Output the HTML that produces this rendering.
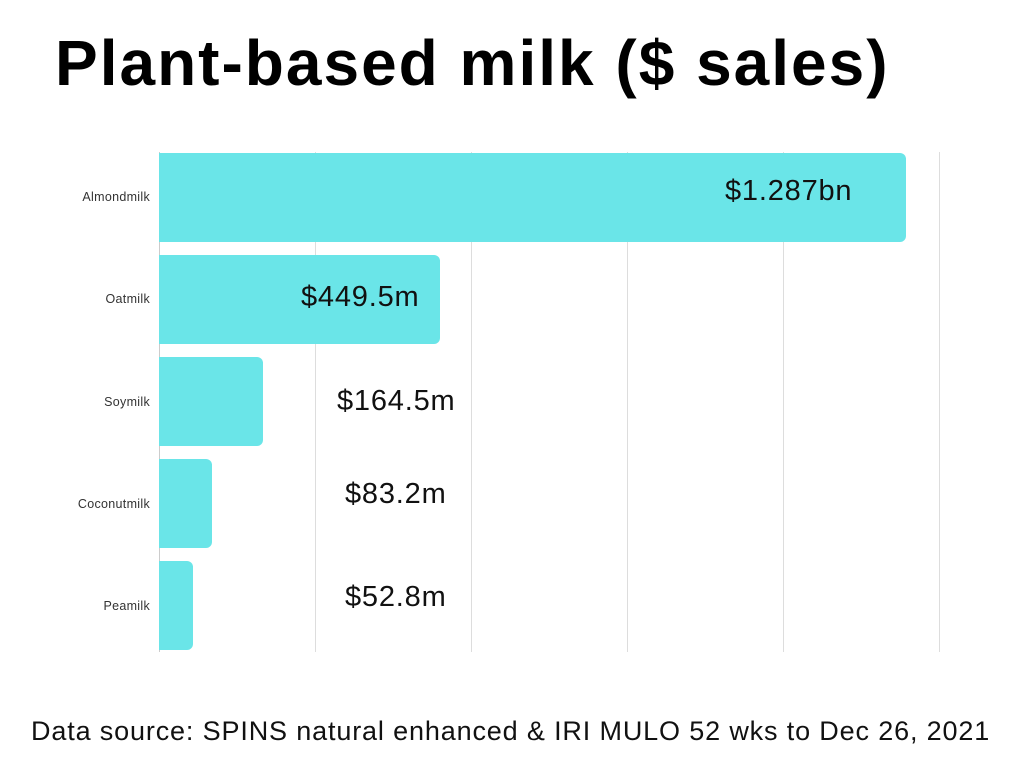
<!DOCTYPE html>
<html><head><meta charset="utf-8"><style>
body{margin:0;width:1024px;height:768px;background:#fff;position:relative;overflow:hidden;font-family:"Liberation Sans",sans-serif}
.t{position:absolute;left:55px;top:26px;font-size:64px;font-weight:bold;color:#000;letter-spacing:2px;white-space:nowrap}
.g{position:absolute;top:152px;height:500px;width:1px;background:#ddd}
.b{position:absolute;left:159px;height:89px;background:#6ae5e8;border-radius:0 6px 6px 0}
.l{position:absolute;right:874px;font-size:12.5px;letter-spacing:0.3px;color:#333;white-space:nowrap}
.v{position:absolute;font-size:29px;letter-spacing:0.8px;color:#111;white-space:nowrap}
.f{position:absolute;left:31px;top:716px;font-size:27px;letter-spacing:0.85px;color:#111;white-space:nowrap}
</style></head><body>
<div class="t">Plant-based milk ($ sales)</div>
<div class="g" style="left:159px;background:#ccc"></div>
<div class="g" style="left:315px"></div>
<div class="g" style="left:471px"></div>
<div class="g" style="left:627px"></div>
<div class="g" style="left:783px"></div>
<div class="g" style="left:939px"></div>
<div class="b" style="top:153px;width:747px"></div>
<div class="b" style="top:255px;width:281px"></div>
<div class="b" style="top:357px;width:104px"></div>
<div class="b" style="top:459px;width:53px"></div>
<div class="b" style="top:561px;width:34px"></div>
<div class="l" style="top:190px">Almondmilk</div>
<div class="l" style="top:292px">Oatmilk</div>
<div class="l" style="top:395px">Soymilk</div>
<div class="l" style="top:497px">Coconutmilk</div>
<div class="l" style="top:599px">Peamilk</div>
<div class="v" style="left:725px;top:175px">$1.287bn</div>
<div class="v" style="left:301px;top:281px">$449.5m</div>
<div class="v" style="left:337px;top:385px">$164.5m</div>
<div class="v" style="left:345px;top:478px">$83.2m</div>
<div class="v" style="left:345px;top:581px">$52.8m</div>
<div class="f">Data source: SPINS natural enhanced &amp; IRI MULO 52 wks to Dec 26, 2021</div>
</body></html>
